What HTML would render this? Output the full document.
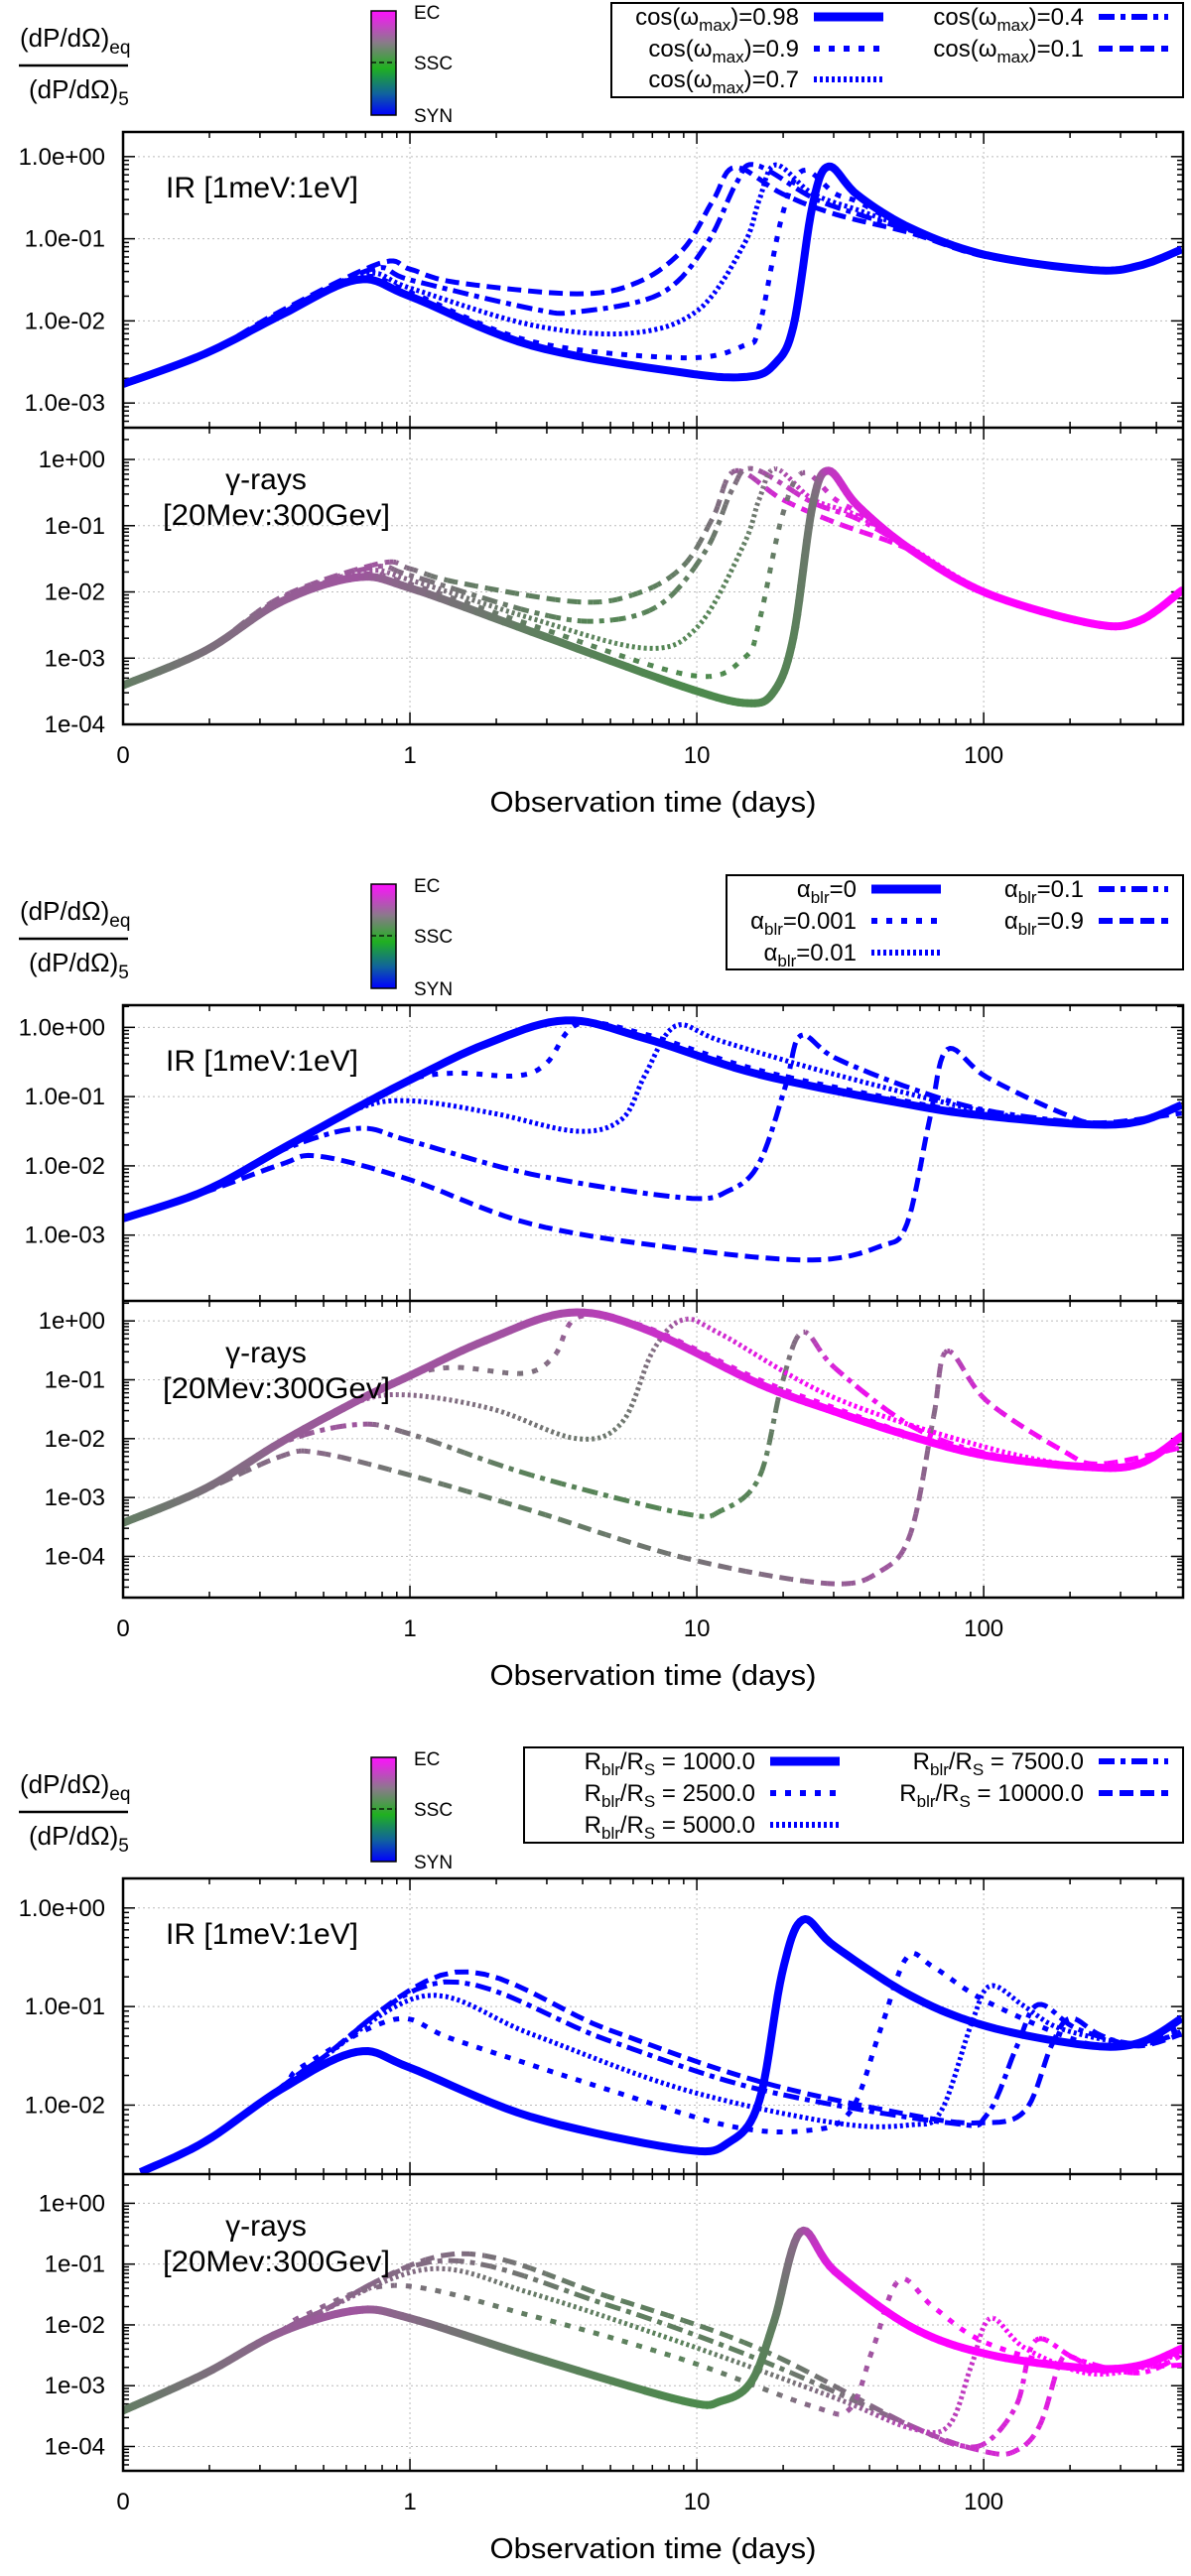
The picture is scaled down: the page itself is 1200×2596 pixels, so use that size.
<!DOCTYPE html>
<html><head><meta charset="utf-8"><style>
html,body{margin:0;padding:0;background:#fff}
svg{display:block;font-family:"Liberation Sans",Arial,sans-serif}
</style></head><body>
<svg id="chart" xmlns="http://www.w3.org/2000/svg" width="1200" height="2596" viewBox="0 0 1200 2596">
<defs>
<linearGradient id="cbgrad" x1="0" y1="0" x2="0" y2="1">
<stop offset="0" stop-color="#ff10ff"/><stop offset="0.3" stop-color="#8a7a8a"/><stop offset="0.55" stop-color="#20b020"/><stop offset="0.8" stop-color="#1060a0"/><stop offset="1" stop-color="#0000ff"/>
</linearGradient>
</defs>
</svg>
<script>
// ---- time axis (days) and log10(ratio) values, per panel/series ----
// Panel 1: cos(omega_max)
const p1_labels = ["cos(ωmax)=0.98","cos(ωmax)=0.9","cos(ωmax)=0.7","cos(ωmax)=0.4","cos(ωmax)=0.1"];
const p1_ir_t = [
 [0.1,0.193,0.355,0.653,1,2.65,8.96,15,18.6,21.7,25.3,28.8,36.4,55.7,102.5,240,347,490],
 [0.1,0.193,0.355,0.673,1,2.65,8.96,14.6,16.5,19.8,23.4,30.3,36.4,55.7,102.5,240,347,490],
 [0.1,0.193,0.355,0.694,1,2.65,5.85,10.1,14.6,16.5,18.8,25.3,36.4,55.7,102.5,240,347,490],
 [0.1,0.193,0.355,0.738,1,2.65,3.82,7.46,10.8,13.7,16,25.3,36.4,55.7,102.5,240,347,490],
 [0.1,0.193,0.355,0.784,1,1.44,3.82,6.22,8.96,11.4,13.6,19.8,30.3,55.7,102.5,240,347,490]];
const p1_ir_log = [
 [-2.77,-2.4,-1.93,-1.5,-1.7,-2.3,-2.63,-2.68,-2.53,-2.07,-0.6,-0.12,-0.47,-0.87,-1.2,-1.38,-1.33,-1.13],
 [-2.77,-2.4,-1.93,-1.47,-1.65,-2.25,-2.45,-2.3,-2.07,-0.73,-0.17,-0.45,-0.55,-0.88,-1.2,-1.38,-1.33,-1.13],
 [-2.77,-2.4,-1.92,-1.43,-1.6,-2.05,-2.15,-1.87,-1.07,-0.53,-0.1,-0.45,-0.65,-0.88,-1.2,-1.38,-1.33,-1.13],
 [-2.77,-2.4,-1.9,-1.37,-1.5,-1.85,-1.89,-1.67,-1.07,-0.33,-0.1,-0.5,-0.7,-0.9,-1.2,-1.38,-1.33,-1.13],
 [-2.77,-2.4,-1.88,-1.3,-1.37,-1.53,-1.67,-1.53,-1.13,-0.53,-0.13,-0.45,-0.7,-0.93,-1.22,-1.38,-1.33,-1.13]];
const p1_g_t = [
 [0.1,0.193,0.355,0.653,1,2.65,8.96,15,18.6,21.7,25.3,28.8,36.4,55.7,102.5,240,347,490],
 [0.1,0.193,0.355,0.673,1,2.65,9.53,14.6,16.5,19.8,23.4,30.3,36.4,55.7,102.5,240,347,490],
 [0.1,0.193,0.355,0.694,1,2.65,6.61,10.1,14.6,16.5,18.8,25.3,36.4,55.7,102.5,240,347,490],
 [0.1,0.193,0.355,0.738,1,2.65,4.58,7.46,10.8,13.3,15.7,25.3,36.4,55.7,102.5,240,347,490],
 [0.1,0.193,0.355,0.784,1,1.44,3.82,6.22,8.96,11.4,13.6,19.8,30.3,55.7,102.5,240,347,490]];
const p1_g_log = [
 [-3.41,-2.89,-2.15,-1.78,-1.94,-2.6,-3.43,-3.68,-3.5,-2.69,-0.7,-0.17,-0.7,-1.36,-2.02,-2.48,-2.44,-1.98],
 [-3.41,-2.89,-2.15,-1.74,-1.88,-2.5,-3.26,-3.0,-2.45,-0.87,-0.2,-0.6,-0.8,-1.35,-2.02,-2.48,-2.44,-1.98],
 [-3.41,-2.89,-2.13,-1.69,-1.82,-2.4,-2.85,-2.52,-1.28,-0.6,-0.14,-0.6,-0.85,-1.33,-2.0,-2.48,-2.44,-1.98],
 [-3.41,-2.89,-2.1,-1.63,-1.75,-2.3,-2.44,-2.19,-1.36,-0.45,-0.14,-0.65,-0.9,-1.35,-2.0,-2.48,-2.44,-1.98],
 [-3.41,-2.89,-2.08,-1.57,-1.65,-1.85,-2.15,-2.02,-1.61,-0.87,-0.17,-0.6,-0.95,-1.37,-2.02,-2.48,-2.44,-1.98]];
const p1_g_mix = [
 [0.2,0.4,0.55,0.6,0.5,0.2,0.05,0.05,0.1,0.15,0.35,0.7,0.85,0.95,1,1,1,1],
 [0.2,0.4,0.55,0.6,0.5,0.2,0.05,0.05,0.1,0.3,0.55,0.85,0.9,0.95,1,1,1,1],
 [0.2,0.4,0.55,0.6,0.5,0.2,0.1,0.1,0.2,0.35,0.55,0.85,0.9,0.95,1,1,1,1],
 [0.2,0.4,0.55,0.6,0.45,0.2,0.1,0.15,0.25,0.4,0.55,0.85,0.9,0.95,1,1,1,1],
 [0.2,0.4,0.55,0.6,0.45,0.25,0.15,0.15,0.25,0.4,0.55,0.85,0.9,0.95,1,1,1,1]];

// Panel 2: alpha_blr
const p2_ir_t = [
 [0.1,0.193,0.355,0.653,1,1.84,3.49,6.61,16.5,55.7,102.5,226,347,490],
 [0.1,0.193,0.355,0.653,1,1.44,2.35,2.99,3.87,6.61,16.5,55.7,102.5,226,347,490],
 [0.1,0.193,0.355,0.653,1,1.95,3.82,5.5,6.61,8.43,12.2,30.3,102.5,226,347,490],
 [0.1,0.193,0.355,0.653,1,2.65,8.96,12.9,16.5,20.4,23.0,30.3,55.7,102.5,226,347,490],
 [0.1,0.193,0.355,0.48,1,2.65,8.96,25.3,43.7,54.0,64.9,74.6,102.5,188,255,490]];
const p2_ir_log = [
 [-2.76,-2.36,-1.76,-1.16,-0.76,-0.24,0.1,-0.16,-0.68,-1.12,-1.28,-1.4,-1.36,-1.12],
 [-2.76,-2.36,-1.76,-1.16,-0.76,-0.66,-0.7,-0.52,0.05,-0.1,-0.62,-1.08,-1.26,-1.4,-1.36,-1.12],
 [-2.76,-2.36,-1.76,-1.18,-1.06,-1.24,-1.5,-1.32,-0.68,0.02,-0.2,-0.68,-1.22,-1.4,-1.36,-1.12],
 [-2.76,-2.36,-1.78,-1.46,-1.64,-2.12,-2.46,-2.36,-1.96,-0.84,-0.12,-0.44,-0.88,-1.2,-1.38,-1.36,-1.15],
 [-2.76,-2.38,-1.98,-1.86,-2.2,-2.84,-3.2,-3.36,-3.16,-2.84,-1.32,-0.32,-0.72,-1.24,-1.38,-1.24]];
const p2_g_t = [
 [0.1,0.193,0.355,0.653,1,1.84,3.59,6.61,16.5,30.3,55.7,102.5,226,347,490],
 [0.1,0.193,0.355,0.653,1,1.44,2.49,3.18,3.87,6.61,16.5,30.3,55.7,102.5,226,347,490],
 [0.1,0.193,0.355,0.653,1,1.95,3.82,5.5,7.03,8.96,12.2,30.3,102.5,226,347,490],
 [0.1,0.193,0.355,0.653,1,2.65,8.96,12.2,16.5,19.8,23.4,30.3,55.7,102.5,226,347,490],
 [0.1,0.193,0.355,0.48,1,2.65,8.96,28.5,43.7,55.7,66.9,74.6,102.5,188,255,490]];
const p2_g_log = [
 [-3.43,-2.85,-2.06,-1.36,-0.93,-0.33,0.14,-0.14,-1.07,-1.54,-1.96,-2.29,-2.48,-2.43,-1.96],
 [-3.43,-2.85,-2.06,-1.36,-0.93,-0.79,-0.89,-0.6,0.07,-0.1,-1.0,-1.48,-1.93,-2.27,-2.48,-2.43,-1.96],
 [-3.43,-2.85,-2.06,-1.38,-1.26,-1.5,-2.0,-1.72,-0.51,0.02,-0.23,-1.31,-2.15,-2.48,-2.43,-1.96],
 [-3.43,-2.85,-2.08,-1.76,-1.92,-2.62,-3.27,-3.22,-2.66,-1.07,-0.19,-0.8,-1.78,-2.25,-2.46,-2.43,-1.96],
 [-3.43,-2.87,-2.3,-2.24,-2.62,-3.22,-4.02,-4.46,-4.25,-3.6,-1.63,-0.51,-1.36,-2.2,-2.43,-2.15]];
const p2_g_mix = [
 [0.2,0.4,0.55,0.6,0.6,0.6,0.65,0.75,0.9,1,1,1,1,1,1],
 [0.2,0.4,0.55,0.6,0.55,0.45,0.4,0.5,0.6,0.75,0.9,1,1,1,1,1,1],
 [0.2,0.4,0.55,0.6,0.5,0.4,0.3,0.3,0.45,0.65,0.8,1,1,1,1,1],
 [0.2,0.4,0.55,0.6,0.4,0.15,0.1,0.1,0.15,0.3,0.55,0.85,1,1,1,1,1],
 [0.2,0.4,0.5,0.5,0.3,0.2,0.35,0.55,0.6,0.55,0.5,0.6,0.85,1,1,1]];

// Panel 3: R_blr/R_S
const p3_ir_t = [
 [0.115,0.193,0.355,0.653,1,2.65,8.96,12.9,16.5,19.8,23.4,30.3,55.7,102.5,226,347,490],
 [0.115,0.193,0.355,0.426,0.885,1.44,4.87,12.9,23.8,34.2,43.7,54.0,66.9,102.5,226,347,490],
 [0.115,0.193,0.355,0.48,1.13,2.65,8.96,30.3,55.7,71.1,90.7,105.6,139,188,347,490],
 [0.115,0.193,0.355,0.48,1.32,4.87,16.5,75.5,102.5,130.7,155,213,347,490],
 [0.115,0.193,0.355,0.48,1.44,4.87,16.5,55.7,96.4,139,172,200,255,347,490]];
const p3_ir_log = [
 [-2.68,-2.37,-1.84,-1.46,-1.62,-2.12,-2.45,-2.38,-1.96,-0.67,-0.12,-0.39,-0.89,-1.2,-1.39,-1.37,-1.12],
 [-2.68,-2.37,-1.82,-1.6,-1.13,-1.34,-1.84,-2.21,-2.26,-2.07,-1.23,-0.5,-0.6,-0.95,-1.37,-1.37,-1.2],
 [-2.68,-2.37,-1.82,-1.55,-0.89,-1.28,-1.84,-2.18,-2.2,-2.06,-1.17,-0.79,-1.0,-1.23,-1.38,-1.25],
 [-2.68,-2.37,-1.82,-1.55,-0.75,-1.34,-1.84,-2.18,-2.1,-1.4,-0.98,-1.23,-1.38,-1.25],
 [-2.68,-2.37,-1.82,-1.55,-0.65,-1.23,-1.76,-2.1,-2.18,-2.06,-1.4,-1.12,-1.29,-1.4,-1.28]];
const p3_g_t = [
 [0.1,0.193,0.355,0.653,1,2.65,8.96,12.2,15.5,18.6,23.0,30.3,55.7,102.5,226,347,490],
 [0.1,0.193,0.355,0.426,0.885,2.65,8.96,25.3,34.2,41.1,50.8,66.9,102.5,226,347,490],
 [0.1,0.193,0.355,0.48,1.16,2.65,8.96,30.3,55.7,75.5,90.7,105.6,139,226,347,490],
 [0.1,0.193,0.355,0.48,1.32,4.87,16.5,55.7,80.3,102.5,130.7,152,213,347,490],
 [0.1,0.193,0.355,0.48,1.44,4.87,16.5,55.7,102.5,130.7,157,183,200,255,490]];
const p3_g_log = [
 [-3.41,-2.8,-2.12,-1.76,-1.89,-2.52,-3.25,-3.25,-2.93,-1.94,-0.47,-1.12,-2.03,-2.48,-2.71,-2.67,-2.39],
 [-3.41,-2.8,-2.1,-1.85,-1.35,-1.85,-2.57,-3.34,-3.38,-2.39,-1.26,-1.71,-2.3,-2.75,-2.67,-2.45],
 [-3.41,-2.8,-2.1,-1.8,-1.08,-1.48,-2.3,-3.2,-3.7,-3.66,-2.66,-1.89,-2.38,-2.79,-2.72,-2.45],
 [-3.41,-2.8,-2.1,-1.8,-0.94,-1.67,-2.57,-3.66,-3.97,-3.93,-3.3,-2.25,-2.57,-2.79,-2.5],
 [-3.41,-2.8,-2.1,-1.8,-0.83,-1.53,-2.39,-3.66,-4.09,-4.06,-3.65,-2.66,-2.52,-2.7,-2.66]];
const p3_g_mix = [
 [0.2,0.4,0.55,0.6,0.5,0.2,0.05,0.05,0.1,0.2,0.55,0.9,1,1,1,1,1],
 [0.2,0.4,0.55,0.55,0.45,0.2,0.15,0.5,0.6,0.6,0.7,0.95,1,1,1,1],
 [0.2,0.4,0.55,0.55,0.45,0.25,0.15,0.5,0.7,0.7,0.75,0.9,1,1,1,1],
 [0.2,0.4,0.55,0.55,0.45,0.2,0.2,0.6,0.75,0.8,0.85,0.95,1,1,1],
 [0.2,0.4,0.55,0.55,0.45,0.2,0.2,0.6,0.8,0.85,0.85,0.9,1,1,1]];

const xTickLabels = ["0","1","10","100"];
const irTickExps = [[0,-1,-2,-3],[0,-1,-2,-3],[0,-1,-2]];
const gTickExps = [0,-1,-2,-3,-4];

// ---- layout ----
const NS = "http://www.w3.org/2000/svg";
const svg = document.getElementById("chart");
const X0 = 124, X1 = 1192, LX0 = -1, LX1 = 2.695;
function xS(t){ return X0 + (Math.log10(t) - LX0) / (LX1 - LX0) * (X1 - X0); }
function mk(tag, attrs, parent){ const e = document.createElementNS(NS, tag); for (const k in attrs) e.setAttribute(k, attrs[k]); (parent||svg).appendChild(e); return e; }

const styles = [
 {w:8, dash:null},
 {w:5, dash:"6,9"},
 {w:5, dash:"3,3"},
 {w:5, dash:"16,6,5,6"},
 {w:5, dash:"14,7"}];

function mixColor(m){
 const a=[70,140,70], b=[135,105,135], c=[255,0,255];
 let r;
 if (m<=0.5){ const f=m/0.5; r=a.map((v,i)=>v+(b[i]-v)*f); }
 else { const f=(m-0.5)/0.5; r=b.map((v,i)=>v+(c[i]-v)*f); }
 return "rgb("+r.map(v=>Math.round(v)).join(",")+")";
}

function densify(pts, vals){
 const out=[], outv=[];
 const n=pts.length;
 for (let i=0;i<n-1;i++){
  const p0=pts[Math.max(0,i-1)], p1=pts[i], p2=pts[i+1], p3=pts[Math.min(n-1,i+2)];
  const steps=10;
  for (let s=0;s<steps;s++){
   const u=s/steps, u2=u*u, u3=u2*u;
   const f=(a,b,c,d)=>0.5*((2*b)+(-a+c)*u+(2*a-5*b+4*c-d)*u2+(-a+3*b-3*c+d)*u3);
   out.push([f(p0[0],p1[0],p2[0],p3[0]), f(p0[1],p1[1],p2[1],p3[1])]);
   if (vals) outv.push(vals[i]+(vals[i+1]-vals[i])*u);
  }
 }
 out.push(pts[n-1]); if (vals) outv.push(vals[n-1]);
 return [out,outv];
}

function drawSeries(g, ts, logs, mix, st, yS, name){
 const pts = ts.map((t,i)=>[xS(t), yS(logs[i])]);
 const [d, dv] = densify(pts, mix);
 if (!mix){
  const p = mk("path",{d:"M"+d.map(p=>p[0].toFixed(1)+","+p[1].toFixed(1)).join("L"), fill:"none", stroke:"#0000ff", "stroke-width":st.w, "stroke-linejoin":"round"}, g);
  if (st.dash) p.setAttribute("stroke-dasharray", st.dash);
  
  
  return;
 }
 const sg = mk("g",{},g);
 
 
 const patLen = st.dash ? st.dash.split(",").reduce((s,v)=>s+parseFloat(v),0) : 1;
 let cum=0;
 for (let i=0;i<d.length-1;i++){
  const a=d[i], b=d[i+1];
  const len=Math.hypot(b[0]-a[0], b[1]-a[1]);
  const p = mk("path",{d:"M"+a[0].toFixed(2)+","+a[1].toFixed(2)+"L"+b[0].toFixed(2)+","+b[1].toFixed(2), fill:"none", stroke:mixColor((dv[i]+dv[i+1])/2), "stroke-width":st.w, "stroke-linecap": st.dash ? "butt":"round"}, sg);
  if (st.dash){ p.setAttribute("stroke-dasharray", st.dash); p.setAttribute("stroke-dashoffset", (cum % patLen).toFixed(2)); }
  cum+=len;
 }
}

const panels = [
 {off:0, irR:[-3.3,0.3], gR:[-4.0,0.48], ir:[p1_ir_t,p1_ir_log], g:[p1_g_t,p1_g_log,p1_g_mix], id:"cos-omega"},
 {off:880, irR:[-3.95,0.32], gR:[-4.7,0.34], ir:[p2_ir_t,p2_ir_log], g:[p2_g_t,p2_g_log,p2_g_mix], id:"alpha-blr"},
 {off:1760, irR:[-2.7,0.3], gR:[-4.4,0.48], ir:[p3_ir_t,p3_ir_log], g:[p3_g_t,p3_g_log,p3_g_mix], id:"r-blr"}];
const seriesNames = [["cos-0.98","cos-0.9","cos-0.7","cos-0.4","cos-0.1"],["alpha-0","alpha-0.001","alpha-0.01","alpha-0.1","alpha-0.9"],["r-1000","r-2500","r-5000","r-7500","r-10000"]];

function drawAxes(g, top, bot, range, tickExps, fmt){
 const yS = v => bot - (v - range[0])/(range[1]-range[0])*(bot-top);
 [1,10,100].forEach(t=>{ mk("line",{x1:xS(t),x2:xS(t),y1:top,y2:bot,stroke:"#bbb","stroke-width":1,"stroke-dasharray":"2,3"},g); });
 tickExps.forEach(e=>{ mk("line",{x1:X0,x2:X1,y1:yS(e),y2:yS(e),stroke:"#bbb","stroke-width":1,"stroke-dasharray":"2,3"},g); });
 for (let dec=-1; dec<=2; dec++){
  for (let m=1;m<=9;m++){
   const t=m*Math.pow(10,dec); if (Math.log10(t)<=LX0+1e-9 || Math.log10(t)>LX1) continue;
   const L = m===1?12:6, x=xS(t);
   mk("line",{x1:x,x2:x,y1:top,y2:top+L,stroke:"#000","stroke-width":1.5},g);
   mk("line",{x1:x,x2:x,y1:bot,y2:bot-L,stroke:"#000","stroke-width":1.5},g);
  }
 }
 for (let e=Math.floor(range[0]); e<=Math.ceil(range[1]); e++){
  for (let m=1;m<=9;m++){
   const v=e+Math.log10(m); if (v<range[0]||v>range[1]) continue;
   const L=m===1?12:6, y=yS(v);
   mk("line",{x1:X0,x2:X0+L,y1:y,y2:y,stroke:"#000","stroke-width":1.5},g);
   mk("line",{x1:X1,x2:X1-L,y1:y,y2:y,stroke:"#000","stroke-width":1.5},g);
  }
 }
 tickExps.forEach(e=>{
  const tx = mk("text",{x:106,y:yS(e)+8,"text-anchor":"end","font-size":24},g);
  tx.textContent = fmt(e);
  
  
 });
 return yS;
}
function fmtIR(e){ return "1.0e" + (e>=0?"+":"-") + String(Math.abs(e)).padStart(2,"0"); }
function fmtG(e){ return "1e" + (e>=0?"+":"-") + String(Math.abs(e)).padStart(2,"0"); }

panels.forEach((P,pi)=>{
 const o=P.off;
 const pg = mk("g",{});
 
 
 const top=133+o, mid=431+o, bot=730+o;
 const cp1 = mk("clipPath",{id:"cir"+pi},pg); mk("rect",{x:X0,y:top,width:X1-X0,height:mid-top},cp1);
 const cp2 = mk("clipPath",{id:"cg"+pi},pg); mk("rect",{x:X0,y:mid,width:X1-X0,height:bot-mid},cp2);

 const irG = mk("g",{},pg);
 
 
 const irY = drawAxes(irG, top, mid, P.irR, irTickExps[pi], fmtIR);
 const gG = mk("g",{},pg);
 
 
 const gY = drawAxes(gG, mid, bot, P.gR, gTickExps, fmtG);

 const irC = mk("g",{"clip-path":"url(#cir"+pi+")"},irG);
 const gC = mk("g",{"clip-path":"url(#cg"+pi+")"},gG);
 for (let s=4;s>=0;s--){
  drawSeries(irC, P.ir[0][s], P.ir[1][s], null, styles[s], irY, "ir-line-"+seriesNames[pi][s]);
  drawSeries(gC, P.g[0][s], P.g[1][s], P.g[2][s], styles[s], gY, "gamma-line-"+seriesNames[pi][s]);
 }
 const fr = mk("rect",{x:X0,y:top,width:X1-X0,height:bot-top,fill:"none",stroke:"#000","stroke-width":2.5},pg);
 
 
 const dvl = mk("line",{x1:X0,x2:X1,y1:mid,y2:mid,stroke:"#000","stroke-width":2.5},pg);
 
 
 [0.1,1,10,100].forEach((t,i)=>{
  const tx = mk("text",{x:xS(t),y:769+o,"text-anchor":"middle","font-size":24},pg);
  tx.textContent = xTickLabels[i];
  
  
 });
 const xt = mk("text",{x:658,y:818+o,"text-anchor":"middle","font-size":29,textLength:329,lengthAdjust:"spacingAndGlyphs"},pg);
 xt.textContent = "Observation time (days)";
 
 
 const l1 = mk("text",{x:167,y:199+o,"font-size":30},pg);
 l1.textContent = "IR [1meV:1eV]";
 
 
 const l2 = mk("text",{x:268,y:493+o,"font-size":30,"text-anchor":"middle"},pg);
 l2.textContent = "γ-rays";
 
 
 const l3 = mk("text",{x:164,y:529+o,"font-size":30,textLength:229,lengthAdjust:"spacingAndGlyphs"},pg);
 l3.textContent = "[20Mev:300Gev]";
 
 
 const yl = mk("g",{},pg);
 
 
 const nm = mk("text",{x:20,y:47+o,"font-size":26},yl);
 nm.innerHTML = '(dP/dΩ)<tspan dy="7" font-size="19">eq</tspan>';
 mk("line",{x1:19,x2:129,y1:66+o,y2:66+o,stroke:"#000","stroke-width":2.5},yl);
 const dn = mk("text",{x:29,y:99+o,"font-size":26},yl);
 dn.innerHTML = '(dP/dΩ)<tspan dy="7" font-size="19">5</tspan>';
 const cb = mk("g",{},pg);
 
 
 mk("rect",{x:374,y:11+o,width:25,height:105,fill:"url(#cbgrad)",stroke:"#000","stroke-width":1.5},cb);
 mk("line",{x1:374,x2:399,y1:63+o,y2:63+o,stroke:"#000","stroke-width":1.2,"stroke-dasharray":"5,3"},cb);
 [["EC",19],["SSC",70],["SYN",123]].forEach(a=>{ const t=mk("text",{x:417,y:a[1]+o,"font-size":19},cb); t.textContent=a[0]; });
});

function legend(o, box, col1End, col2End, rows, labels){
 const g = mk("g",{});
 
 
 mk("rect",{x:box[0],y:box[1]+o,width:box[2]-box[0],height:box[3]-box[1],fill:"#fff",stroke:"#000","stroke-width":2},g);
 labels.forEach((lab,i)=>{
  const col = i<3?0:1, row = i<3?i:i-3;
  const xe = col===0?col1End:col2End, y=rows[row]+o;
  const t = mk("text",{x:xe,y:y+8,"text-anchor":"end","font-size":24},g);
  t.innerHTML = lab;
  
  
  const ln = mk("line",{x1:xe+15,x2:xe+85,y1:y,y2:y,stroke:"#0000ff","stroke-width":styles[i].w+1},g);
  if (styles[i].dash) ln.setAttribute("stroke-dasharray", styles[i].dash);
 });
}
legend(0,[616,3,1192,98],805,1092,[17,49,80],[
 'cos(ω<tspan dy="6" font-size="17">max</tspan><tspan dy="-6">)=0.98</tspan>',
 'cos(ω<tspan dy="6" font-size="17">max</tspan><tspan dy="-6">)=0.9</tspan>',
 'cos(ω<tspan dy="6" font-size="17">max</tspan><tspan dy="-6">)=0.7</tspan>',
 'cos(ω<tspan dy="6" font-size="17">max</tspan><tspan dy="-6">)=0.4</tspan>',
 'cos(ω<tspan dy="6" font-size="17">max</tspan><tspan dy="-6">)=0.1</tspan>']);
legend(0,[732,882,1192,977],863,1092,[896,928,960],[
 'α<tspan dy="6" font-size="17">blr</tspan><tspan dy="-6">=0</tspan>',
 'α<tspan dy="6" font-size="17">blr</tspan><tspan dy="-6">=0.001</tspan>',
 'α<tspan dy="6" font-size="17">blr</tspan><tspan dy="-6">=0.01</tspan>',
 'α<tspan dy="6" font-size="17">blr</tspan><tspan dy="-6">=0.1</tspan>',
 'α<tspan dy="6" font-size="17">blr</tspan><tspan dy="-6">=0.9</tspan>']);
legend(0,[528,1761,1192,1857],761,1092,[1775,1807,1839],[
 'R<tspan dy="6" font-size="17">blr</tspan><tspan dy="-6">/R</tspan><tspan dy="6" font-size="17">S</tspan><tspan dy="-6"> = 1000.0</tspan>',
 'R<tspan dy="6" font-size="17">blr</tspan><tspan dy="-6">/R</tspan><tspan dy="6" font-size="17">S</tspan><tspan dy="-6"> = 2500.0</tspan>',
 'R<tspan dy="6" font-size="17">blr</tspan><tspan dy="-6">/R</tspan><tspan dy="6" font-size="17">S</tspan><tspan dy="-6"> = 5000.0</tspan>',
 'R<tspan dy="6" font-size="17">blr</tspan><tspan dy="-6">/R</tspan><tspan dy="6" font-size="17">S</tspan><tspan dy="-6"> = 7500.0</tspan>',
 'R<tspan dy="6" font-size="17">blr</tspan><tspan dy="-6">/R</tspan><tspan dy="6" font-size="17">S</tspan><tspan dy="-6"> = 10000.0</tspan>']);
</script>
</body></html>
